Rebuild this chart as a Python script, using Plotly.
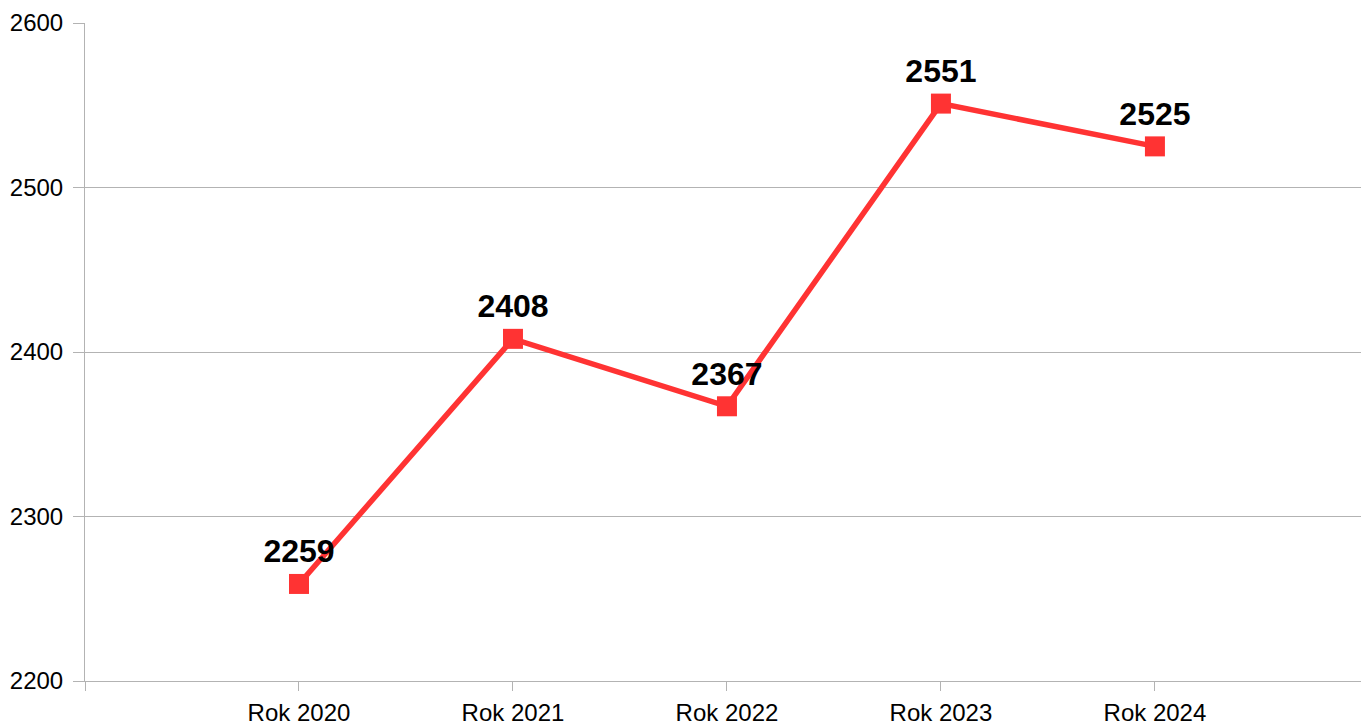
import plotly.graph_objects as go

categories = ["Rok 2020", "Rok 2021", "Rok 2022", "Rok 2023", "Rok 2024"]
values = [2259, 2408, 2367, 2551, 2525]
y_ticks = [2200, 2300, 2400, 2500, 2600]

xpos = list(range(len(categories)))

fig = go.Figure()
fig.add_trace(go.Scatter(
    x=xpos, y=values,
    mode="lines+markers+text",
    line=dict(color="#ff3333", width=5.5),
    marker=dict(symbol="square", size=20, color="#ff3333"),
    text=[str(v) for v in values],
    textposition="top center",
    textfont=dict(family="Liberation Sans", size=32, color="#000000", weight="bold"),
    cliponaxis=False,
    hoverinfo="skip",
))

fig.update_layout(
    width=1361, height=727,
    margin=dict(l=85, r=0, t=23, b=46),
    paper_bgcolor="white", plot_bgcolor="white",
    showlegend=False,
    font=dict(family="Liberation Sans", size=24, color="#000000"),
)
fig.update_xaxes(
    range=[-1, 4.963],
    tickmode="array",
    tickvals=[-1] + xpos,
    ticktext=[""] + categories,
    ticks="outside", ticklen=9, tickcolor="#b3b3b3", tickwidth=1,
    ticklabelstandoff=1,
    automargin=False,
    showgrid=False, zeroline=False,
    showline=True, linecolor="#b3b3b3", linewidth=1,
    tickfont=dict(family="Liberation Sans", size=24, color="#000000"),
)
fig.update_yaxes(
    range=[2200, 2600],
    tickmode="array", tickvals=y_ticks,
    ticks="outside", ticklen=11, tickcolor="#b3b3b3", tickwidth=1,
    ticklabelstandoff=5,
    automargin=False,
    showgrid=True, gridcolor="#b3b3b3", gridwidth=1,
    zeroline=False,
    showline=True, linecolor="#b3b3b3", linewidth=1,
    tickfont=dict(family="Liberation Sans", size=24, color="#000000"),
)

fig.write_html(
    "out.html",
    config={"displayModeBar": False},
    post_script="document.body.style.margin='0';document.body.style.overflow='hidden';",
)
